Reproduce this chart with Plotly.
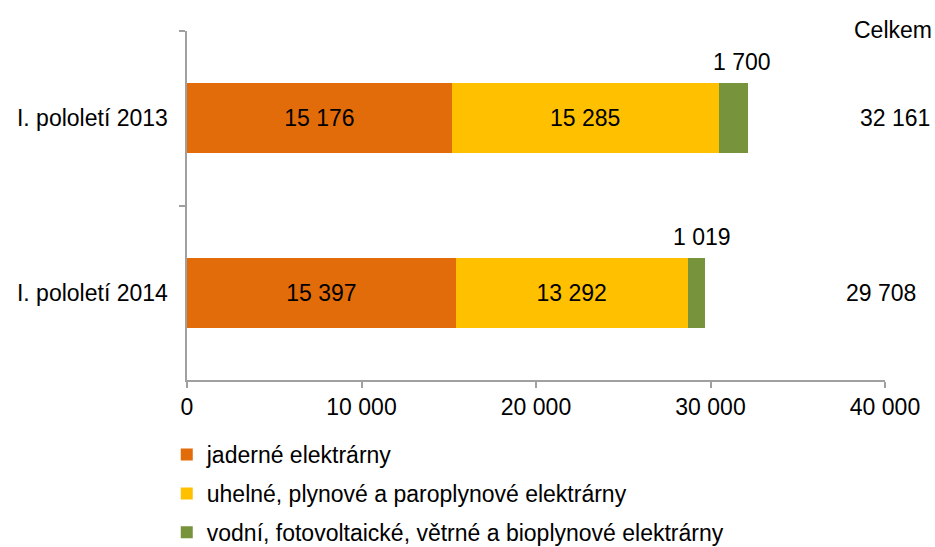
import plotly.graph_objects as go

categories = ["I. pololetí 2013", "I. pololetí 2014"]
series_names = [
    "jaderné elektrárny",
    "uhelné, plynové a paroplynové elektrárny",
    "vodní, fotovoltaické, větrné a bioplynové elektrárny",
]
nuclear = [15176, 15397]
coal_gas = [15285, 13292]
renewable = [1700, 1019]
totals = [32161, 29708]
x_tickvals = [0, 10000, 20000, 30000, 40000]
x_ticktext = ["0", "10 000", "20 000", "30 000", "40 000"]
total_title = "Celkem"

colors = ["#E36C0A", "#FFC000", "#77933C"]
FONT = "Liberation Sans, Arial, sans-serif"
FS = 23


def fmt(v):
    return f"{v:,}".replace(",", " ")


fig = go.Figure()
for i, (name, vals) in enumerate(zip(series_names, [nuclear, coal_gas, renewable])):
    show_inside = i < 2
    fig.add_trace(go.Bar(
        y=categories, x=vals, name=name, orientation="h",
        marker=dict(color=colors[i], line=dict(width=0)),
        text=[fmt(v) for v in vals] if show_inside else None,
        textposition="inside" if show_inside else "none",
        insidetextanchor="middle",
        textfont=dict(family=FONT, size=FS, color="#000000"),
        legendgroup=str(i),
        hoverinfo="x+name",
    ))

annotations = []
# values for the small green segment, above the bar
starts = [n + c for n, c in zip(nuclear, coal_gas)]
label_x_off = [520, 290]
for cat, s, r, off in zip(categories, starts, renewable, label_x_off):
    annotations.append(dict(
        x=s + r / 2 + off, y=cat, xref="x", yref="y", text=fmt(r),
        showarrow=False, yshift=56,
        font=dict(family=FONT, size=FS, color="#000000"),
    ))
# totals to the right
total_x = [1.014, 0.994]
for cat, t, px in zip(categories, totals, total_x):
    annotations.append(dict(
        x=px, y=cat, xref="paper", yref="y", text=fmt(t),
        showarrow=False, xanchor="center",
        font=dict(family=FONT, size=FS, color="#000000"),
    ))
annotations.append(dict(
        x=1.011, y=1.003, xref="paper", yref="paper", text=total_title,
        showarrow=False, xanchor="center", yanchor="middle",
        font=dict(family=FONT, size=FS, color="#000000"),
))

fig.update_layout(
    width=935, height=547,
    margin=dict(l=187, r=50, t=31, b=167, autoexpand=False),
    barmode="stack", bargap=0.6,
    plot_bgcolor="white", paper_bgcolor="white",
    font=dict(family=FONT, size=FS, color="#000000"),
    showlegend=True,
    legend=dict(
        orientation="v", x=-0.029, y=-0.152, xanchor="left", yanchor="top",
        traceorder="grouped", tracegroupgap=6, itemclick=False,
        font=dict(family=FONT, size=FS, color="#000000"),
        bgcolor="rgba(0,0,0,0)",
    ),
    annotations=annotations,
)
fig.update_xaxes(
    range=[0, 40000], tickvals=x_tickvals, ticktext=x_ticktext, automargin=False,
    showgrid=False, zeroline=False, showline=True, linecolor="#A0A0A0", linewidth=1.5,
    ticks="outside", ticklen=6, tickcolor="#A0A0A0", tickwidth=1.5,
    tickfont=dict(family=FONT, size=FS, color="#000000"),
)
fig.update_yaxes(
    autorange="reversed", type="category", automargin=False,
    showgrid=False, zeroline=False, showline=True, linecolor="#A0A0A0", linewidth=1.5,
    ticks="outside", ticklen=6, tickcolor="#A0A0A0", tickwidth=1.5, tickson="boundaries",
    tickfont=dict(family=FONT, size=FS, color="#000000"),
    ticksuffix="  ",
)

fig.write_html(
    "out.html",
    config={"displayModeBar": False},
    post_script="document.body.style.margin='0';document.body.style.overflow='hidden';",
)
